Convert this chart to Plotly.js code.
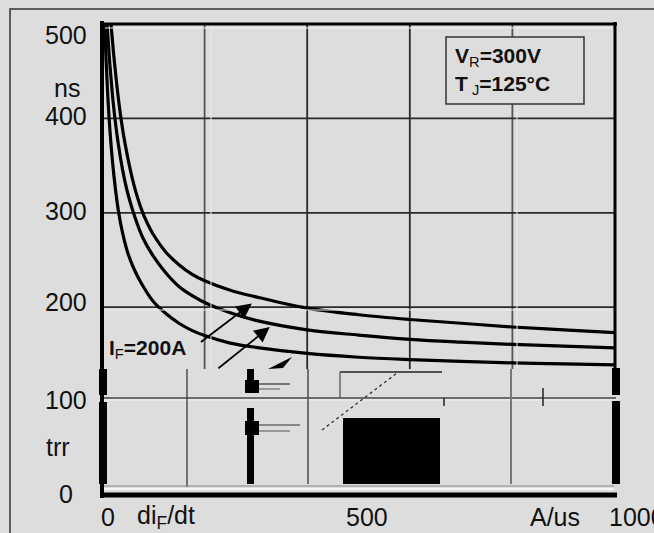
<!DOCTYPE html>
<html>
<head>
<meta charset="utf-8">
<script src="https://cdn.plot.ly/plotly-3.0.1.min.js"></script>
<style>html,body{margin:0;padding:0;background:#dddddd;}#chart{width:654px;height:533px;}</style>
</head>
<body>
<div id="chart"></div>
<script>
// ---- data (trr in ns vs diF/dt in A/us) ----
const upperX = [14, 18, 22, 30, 37, 45, 55, 65, 78, 90, 100, 125, 150, 175, 200, 250, 300, 400, 500, 600, 700, 800, 900, 1000];
const upperY = [520, 497, 472, 430, 400, 373, 346, 324, 302, 287, 277, 258, 245, 235, 228, 218, 211, 199, 192, 187, 183, 179, 176, 173];
const middleX = [5, 10, 15, 20, 25, 32, 40, 50, 65, 80, 100, 125, 150, 175, 200, 250, 300, 400, 500, 600, 700, 800, 900, 1000];
const middleY = [549, 498, 459, 427, 401, 372, 346, 321, 294, 273, 254, 236, 222, 212.5, 205, 194, 186, 176, 170.5, 166, 163, 160.6, 158.7, 157];
const lowerX = [2, 5, 8, 11, 14, 20, 26, 32, 40, 50, 62, 75, 100, 125, 150, 175, 200, 250, 300, 400, 500, 600, 700, 800, 900, 1000];
const lowerY = [560, 504, 461, 427, 399, 357, 326, 302, 279, 258, 241, 227, 206, 193, 183, 175.5, 170, 162, 157.5, 151, 147, 144.5, 142.6, 141, 140, 139];

const xGridVals = [200, 400, 600, 800];
const yGridVals = [200, 300, 400];
const yTickVals = [0, 100, 200, 300, 400, 500];
const yTickText = ['0', '100', '200', '300', '400', '500'];
const xTickText = ['0', '500', '1000'];
const yUnit = 'ns', yName = 'trr', xName = 'di<sub>F</sub>/dt', xUnit = 'A/us';
const condLine1 = '<b>V</b><sub>R</sub><b>=300V</b>';
const condLine2 = '<b>T</b><sub> J</sub><b>=125°C</b>';
const curveLabel = '<b>I</b><sub>F</sub><b>=200A</b>';

// ---- layout geometry (pixels) ----
const W = 654, H = 533, L = 102, R = 615, T = 24, B = 496;
const px = x => (x - L) / (R - L);
const py = y => (B - y) / (B - T);
const FONT = 'Liberation Sans, Arial, Helvetica, sans-serif';

const lineStyle = {color: '#000', width: 3.2, shape: 'spline', smoothing: 1};
const traces = [
  {x: upperX, y: upperY, name: 'upper', mode: 'lines', line: lineStyle, hoverinfo: 'skip'},
  {x: middleX, y: middleY, name: 'middle', mode: 'lines', line: lineStyle, hoverinfo: 'skip'},
  {x: lowerX, y: lowerY, name: 'lower', mode: 'lines', line: lineStyle, hoverinfo: 'skip'}
];

function rectPx(x0, y0, x1, y1, fill, line, lw) {
  return {type: 'rect', xref: 'paper', yref: 'paper', x0: px(x0), x1: px(x1), y0: py(y0), y1: py(y1),
    fillcolor: fill || 'rgba(0,0,0,0)', line: {color: line || 'rgba(0,0,0,0)', width: lw || 0}, layer: 'above'};
}
function linePx(x0, y0, x1, y1, color, w, dash) {
  return {type: 'line', xref: 'paper', yref: 'paper', x0: px(x0), x1: px(x1), y0: py(y0), y1: py(y1),
    line: {color: color, width: w, dash: dash || 'solid'}, layer: 'above'};
}
function pathPx(pts, fill) {
  const d = pts.map((p, i) => (i ? 'L' : 'M') + px(p[0]) + ',' + py(p[1])).join(' ') + ' Z';
  return {type: 'path', xref: 'paper', yref: 'paper', path: d, fillcolor: fill, line: {width: 0}, layer: 'above'};
}

const GRID = '#2a2a2a';
const shapes = [];
// grid lines (upper, undamaged part of the scan)
xGridVals.forEach(v => shapes.push({type: 'line', xref: 'x', yref: 'paper', x0: v, x1: v, y0: py(369), y1: 1,
  line: {color: (v === 200 || v === 800) ? '#555' : GRID, width: 1.8}, layer: 'below'}));
yGridVals.forEach(v => shapes.push({type: 'line', xref: 'paper', yref: 'y', x0: 0, x1: 1, y0: v, y1: v,
  line: {color: GRID, width: 1.8}, layer: 'below'}));

shapes.push(
  // outer frame (only top/left edges fall inside the window)
  rectPx(10, 9, 700, 600, null, '#333', 1.5),
  // light scan edges beside some grid lines
  linePx(211, 27, 211, 368, '#ebebeb', 1),
  linePx(517, 27, 517, 368, '#ebebeb', 1),
  linePx(105, 28, 612, 28, '#efefef', 1),
  linePx(105, 310, 612, 310, '#eaeaea', 1),
  // damaged lower region of the scan
  linePx(102, 398, 616, 398, '#444', 1.5),
  linePx(102, 400, 616, 400, '#f2f2f2', 1),
  linePx(187, 369, 187, 487, '#444', 1.4),
  linePx(308, 369, 308, 484, '#555', 1.6),
  linePx(511, 369, 511, 484, '#777', 2),
  linePx(543, 388, 543, 406, '#222', 1.5),
  linePx(444, 398, 444, 406, '#222', 1.5),
  rectPx(99, 369, 107, 395, '#000'),
  rectPx(99, 402, 107, 484, '#000'),
  rectPx(612, 368, 620, 395, '#000'),
  rectPx(612, 401, 620, 484, '#000'),
  rectPx(343, 418, 440, 484, '#000'),
  rectPx(247, 369, 254, 393, '#000'),
  rectPx(245, 380, 259, 393, '#000'),
  rectPx(247, 408, 254, 484, '#000'),
  rectPx(245, 421, 259, 435, '#000'),
  linePx(259, 384, 290, 384, '#333', 1.2),
  linePx(259, 389, 280, 389, '#555', 1),
  linePx(259, 425, 300, 425, '#333', 1.2),
  linePx(259, 431, 290, 431, '#555', 1),
  linePx(340, 372, 442, 372, '#222', 1.5),
  linePx(340, 372, 340, 398, '#555', 1.3),
  linePx(322, 430, 397, 373, '#333', 1.3, 'dot'),
  pathPx([[268, 369], [292, 357], [283, 368]], '#000'),
  linePx(104, 489, 614, 489, '#ffffff', 1.5),
  linePx(104, 486, 614, 486, '#888', 1),
  // plot frame
  linePx(102, 21, 102, 498, '#000', 4),
  linePx(100, 24, 617, 24, '#000', 3),
  linePx(615, 22, 615, 370, '#000', 3),
  linePx(100, 495, 617, 495, '#000', 5),
  // condition box
  rectPx(446, 37, 584, 104, '#dddddd', '#333', 1.5)
);

const tf = {family: FONT, size: 25, color: '#111'};
const annotations = [];
yTickVals.forEach((v, i) => {
  annotations.push({xref: 'paper', yref: 'y', x: px(66), y: v, text: yTickText[i], showarrow: false,
    xanchor: 'center', yanchor: 'middle', font: tf, yshift: v === 500 ? -11 : (v === 200 ? 5 : 2)});
});
annotations.push({xref: 'paper', yref: 'paper', x: px(67), y: py(88), text: yUnit, showarrow: false, xanchor: 'center', yanchor: 'middle', font: tf});
annotations.push({xref: 'paper', yref: 'paper', x: px(58), y: py(447), text: yName, showarrow: false, xanchor: 'center', yanchor: 'middle', font: tf});
const xLabY = py(517);
annotations.push({xref: 'paper', yref: 'paper', x: px(108), y: xLabY, text: xTickText[0], showarrow: false, xanchor: 'center', yanchor: 'middle', font: tf});
annotations.push({xref: 'paper', yref: 'paper', x: px(367), y: xLabY, text: xTickText[1], showarrow: false, xanchor: 'center', yanchor: 'middle', font: tf});
annotations.push({xref: 'paper', yref: 'paper', x: px(607), y: xLabY, text: xTickText[2], showarrow: false, xanchor: 'left', yanchor: 'middle', font: tf});
annotations.push({xref: 'paper', yref: 'paper', x: px(135), y: xLabY, text: xName, showarrow: false, xanchor: 'left', yanchor: 'middle', font: tf});
annotations.push({xref: 'paper', yref: 'paper', x: px(555), y: xLabY, text: xUnit, showarrow: false, xanchor: 'center', yanchor: 'middle', font: tf});

const bf = {family: FONT, size: 21, color: '#111'};
annotations.push({xref: 'paper', yref: 'paper', x: px(453), y: py(57), text: condLine1, showarrow: false, xanchor: 'left', yanchor: 'middle', font: bf});
annotations.push({xref: 'paper', yref: 'paper', x: px(453), y: py(85), text: condLine2, showarrow: false, xanchor: 'left', yanchor: 'middle', font: bf});
annotations.push({xref: 'paper', yref: 'paper', x: px(107), y: py(349), text: curveLabel, showarrow: false, xanchor: 'left', yanchor: 'middle', font: bf});

// arrows (head position / tail position in axis units)
annotations.push({xref: 'x', yref: 'y', axref: 'x', ayref: 'y', x: 292, y: 204, ax: 190, ay: 162, text: '', showarrow: true,
  arrowhead: 2, arrowsize: 1.7, arrowwidth: 1.8, arrowcolor: '#000'});
annotations.push({xref: 'x', yref: 'y', axref: 'x', ayref: 'y', x: 327, y: 179, ax: 224, ay: 134, text: '', showarrow: true,
  arrowhead: 2, arrowsize: 1.7, arrowwidth: 1.8, arrowcolor: '#000'});

const layout = {
  width: W, height: H,
  margin: {l: L, r: W - R, t: T, b: H - B, pad: 0},
  paper_bgcolor: '#dddddd', plot_bgcolor: '#dddddd',
  showlegend: false,
  xaxis: {range: [0, 1000], showgrid: false, zeroline: false, showticklabels: false, ticks: '', showline: false, fixedrange: true},
  yaxis: {range: [0, 500], showgrid: false, zeroline: false, showticklabels: false, ticks: '', showline: false, fixedrange: true},
  shapes: shapes,
  annotations: annotations,
  font: {family: FONT}
};

Plotly.newPlot('chart', traces, layout, {displayModeBar: false, staticPlot: true});
</script>
</body>
</html>
